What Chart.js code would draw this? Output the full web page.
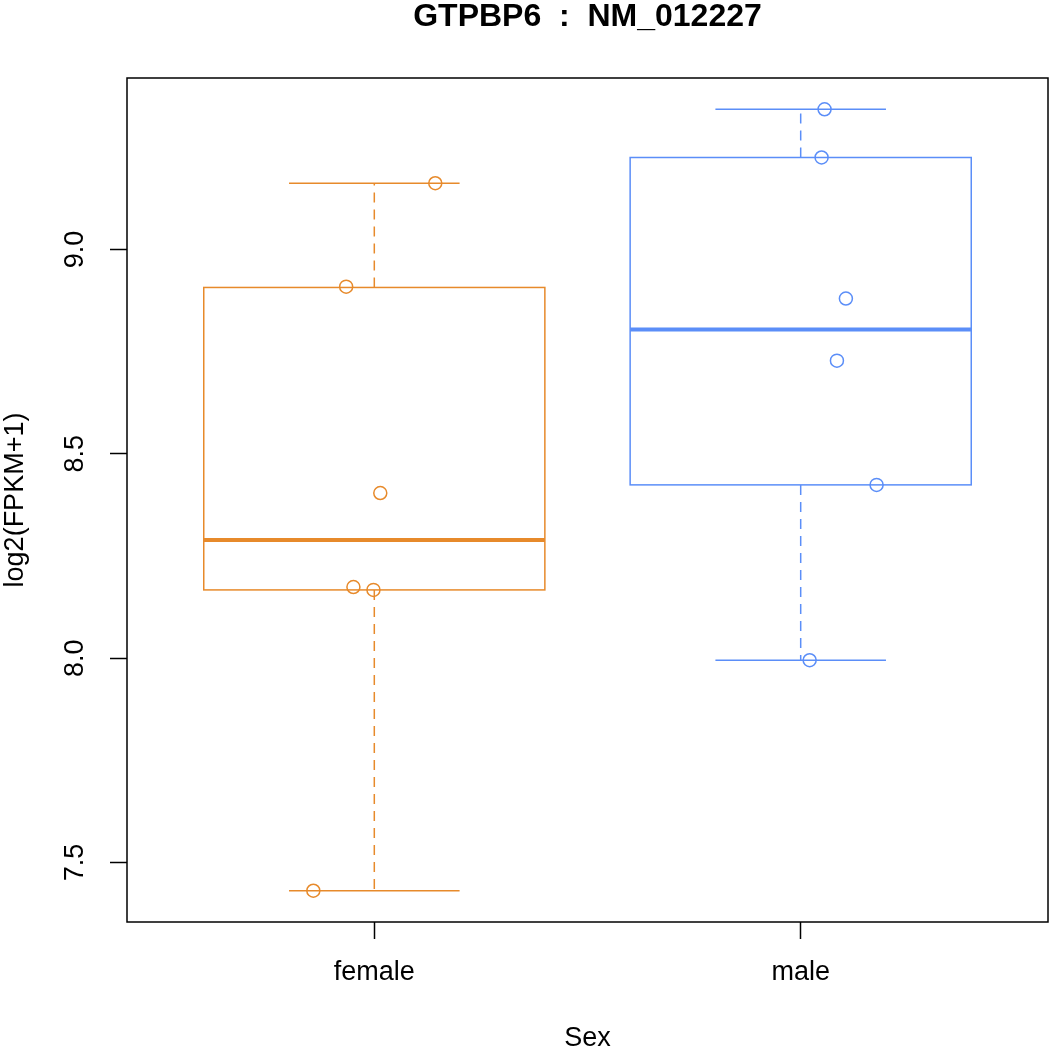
<!DOCTYPE html>
<html>
<head>
<meta charset="utf-8">
<script src="https://cdn.jsdelivr.net/npm/chart.js@4"></script>
<style>
  html, body { margin: 0; padding: 0; background: #fff; overflow: hidden; }
  #wrap { width: 1050px; height: 1049px; }
  canvas { display: block; }
</style>
</head>
<body>
<div id="wrap"><canvas id="chart"></canvas></div>
<script>
/* ---------------- DATA ---------------- */

const categories = ["female", "male"];

// boxplot stats per category: lower whisker, Q1, median, Q3, upper whisker
const whiskerLow = [7.431, 7.995];
const q1 = [8.167, 8.424];
const median = [8.289, 8.804];
const q3 = [8.907, 9.225];
const whiskerHigh = [9.162, 9.343];

// individual samples (jittered x position, value)
const femaleX = [0.857, 0.951, 0.998, 1.014, 0.934, 1.143];
const femaleY = [7.431, 8.174, 8.167, 8.404, 8.909, 9.162];
const maleX = [2.021, 2.178, 2.085, 2.106, 2.049, 2.056];
const maleY = [7.995, 8.424, 8.728, 8.880, 9.225, 9.343];

const yTicks = [7.5, 8.0, 8.5, 9.0];

const colors = ["#E78A2B", "#5B8EF8"];
const FONT = "'Liberation Sans', Arial, Helvetica, sans-serif";

/* ---------------- BOX DRAWING ---------------- */

const BOX_HALF = 0.4;
const STAPLE_HALF = 0.2;

const boxPlugin = {
  id: "boxes",
  beforeDatasetsDraw(chart) {
    const { ctx, scales } = chart;
    const xs = scales.x;
    const ys = scales.y;

    categories.forEach((cat, i) => {
      const c = i + 1;
      const xl = xs.getPixelForValue(c - BOX_HALF);
      const xr = xs.getPixelForValue(c + BOX_HALF);
      const xm = xs.getPixelForValue(c);
      const sl = xs.getPixelForValue(c - STAPLE_HALF);
      const sr = xs.getPixelForValue(c + STAPLE_HALF);

      ctx.save();
      ctx.strokeStyle = colors[i];
      ctx.lineWidth = 1.5;

      // whiskers
      ctx.setLineDash([10, 7]);
      ctx.beginPath();
      ctx.moveTo(xm, ys.getPixelForValue(q1[i]));
      ctx.lineTo(xm, ys.getPixelForValue(whiskerLow[i]));
      ctx.moveTo(xm, ys.getPixelForValue(q3[i]));
      ctx.lineTo(xm, ys.getPixelForValue(whiskerHigh[i]));
      ctx.stroke();
      ctx.setLineDash([]);

      // staples
      ctx.beginPath();
      ctx.moveTo(sl, ys.getPixelForValue(whiskerLow[i]));
      ctx.lineTo(sr, ys.getPixelForValue(whiskerLow[i]));
      ctx.moveTo(sl, ys.getPixelForValue(whiskerHigh[i]));
      ctx.lineTo(sr, ys.getPixelForValue(whiskerHigh[i]));
      ctx.stroke();

      // box
      const yt = ys.getPixelForValue(q3[i]);
      const yb = ys.getPixelForValue(q1[i]);
      ctx.strokeRect(xl, yt, xr - xl, yb - yt);

      // median
      ctx.lineWidth = 4;
      ctx.beginPath();
      ctx.moveTo(xl, ys.getPixelForValue(median[i]));
      ctx.lineTo(xr, ys.getPixelForValue(median[i]));
      ctx.stroke();
      ctx.restore();
    });
  },
  afterDraw(chart) {
    const { ctx, chartArea: a } = chart;
    ctx.save();
    ctx.strokeStyle = "#000";
    ctx.lineWidth = 1.5;
    ctx.strokeRect(a.left, a.top, a.right - a.left, a.bottom - a.top);
    ctx.restore();
  },
};

/* ---------------- CHART ---------------- */

function pts(xv, yv) {
  return xv.map((x, i) => ({ x: x, y: yv[i] }));
}

function pointSet(label, data, color) {
  return {
    label: label,
    data: data,
    pointStyle: "circle",
    pointRadius: 6.5,
    pointBorderWidth: 1.5,
    borderColor: color,
    backgroundColor: "rgba(0,0,0,0)",
  };
}

new Chart(document.getElementById("chart"), {
  type: "scatter",
  data: {
    datasets: [
      pointSet(categories[0], pts(femaleX, femaleY), colors[0]),
      pointSet(categories[1], pts(maleX, maleY), colors[1]),
    ],
  },
  plugins: [boxPlugin],
  options: {
    responsive: true,
    maintainAspectRatio: false,
    animation: false,
    layout: {
      autoPadding: false,
      padding: { left: 0, right: 2, top: 0, bottom: 0 },
    },
    plugins: {
      legend: { display: false },
      tooltip: { enabled: false },
      title: {
        display: true,
        fullSize: false,
        text: "GTPBP6  :  NM_012227",
        color: "#000",
        font: { family: FONT, size: 32, weight: "bold", lineHeight: 1 },
        padding: { top: 1, bottom: 45 },
      },
    },
    scales: {
      x: {
        type: "linear",
        min: 0.42,
        max: 2.58,
        afterBuildTicks(s) {
          s.ticks = categories.map((c, i) => ({ value: i + 1 }));
        },
        afterFit(s) {
          s.height = 127;
          s.paddingLeft = 0;
          s.paddingRight = 0;
        },
        ticks: {
          color: "#000",
          font: { family: FONT, size: 27 },
          padding: 17,
          callback: (v) => categories[v - 1],
        },
        grid: {
          display: true,
          drawOnChartArea: false,
          drawTicks: true,
          tickLength: 17,
          tickWidth: 1.5,
          tickColor: "#000",
        },
        border: { display: false },
        title: {
          display: true,
          text: "Sex",
          color: "#000",
          font: { family: FONT, size: 27, lineHeight: 1 },
          padding: { top: 0, bottom: -3 },
        },
      },
      y: {
        type: "linear",
        min: 7.3545,
        max: 9.4195,
        afterBuildTicks(s) {
          s.ticks = yTicks.map((v) => ({ value: v }));
        },
        afterFit(s) {
          s.width = 127;
          s.paddingTop = 0;
          s.paddingBottom = 0;
        },
        ticks: {
          color: "#000",
          font: { family: FONT, size: 27 },
          padding: 16,
          minRotation: 90,
          maxRotation: 90,
          crossAlign: "center",
          callback: (v) => v.toFixed(1),
        },
        grid: {
          display: true,
          drawOnChartArea: false,
          drawTicks: true,
          tickLength: 17,
          tickWidth: 1.5,
          tickColor: "#000",
        },
        border: { display: false },
        title: {
          display: true,
          text: "log2(FPKM+1)",
          color: "#000",
          font: { family: FONT, size: 27, lineHeight: 1 },
          padding: { top: 2, bottom: 0 },
        },
      },
    },
  },
});
</script>
</body>
</html>
